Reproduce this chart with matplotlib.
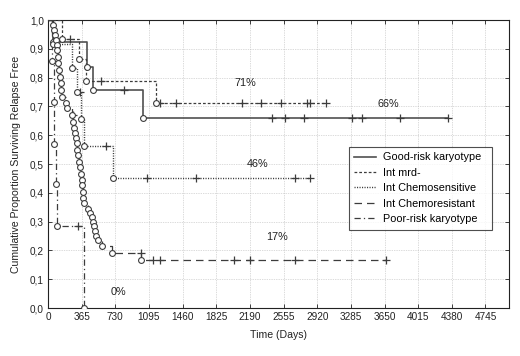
import numpy as np
import matplotlib
matplotlib.use("Agg")
import matplotlib.pyplot as plt
from matplotlib.lines import Line2D

plt.rcParams['font.family'] = ['Liberation Sans', 'DejaVu Sans']

# ---------------- data ----------------
series_names = ["Good-risk karyotype", "Int mrd-", "Int Chemosensitive",
                "Int Chemoresistant", "Poor-risk karyotype"]

good_event_days = [50, 419, 487, 1030]
good_surv = [0.923, 0.838, 0.757, 0.660]
good_censor_days = [823, 2434, 2568, 2774, 3301, 3409, 3821, 4334]

mrd_event_days = [147, 333, 412, 1170]
mrd_surv = [0.933, 0.864, 0.789, 0.711]
mrd_censor_days = [238, 574, 1213, 1387, 2103, 2315, 2525, 2813, 2840, 3012]

sens_event_days = [55, 256, 311, 357, 390, 707]
sens_surv = [0.917, 0.834, 0.751, 0.656, 0.5625, 0.450]
sens_censor_days = [347, 628, 1077, 1601, 2680, 2840]

res_event_days = [57, 68, 76, 87, 95, 101, 106, 110, 119, 130, 137, 144, 155,
                  192, 209, 263, 274, 282, 293, 300, 310, 317, 328, 336, 347,
                  354, 365, 372, 378, 384, 390, 433, 455, 473, 491, 502, 509,
                  520, 547, 585, 690, 1004]
res_surv = [0.983, 0.965, 0.948, 0.930, 0.913, 0.896, 0.873, 0.850, 0.826,
            0.803, 0.780, 0.757, 0.734, 0.711, 0.693, 0.670, 0.647, 0.624,
            0.607, 0.589, 0.572, 0.549, 0.531, 0.508, 0.490, 0.467, 0.444,
            0.427, 0.404, 0.383, 0.363, 0.345, 0.330, 0.315, 0.300, 0.285,
            0.268, 0.250, 0.235, 0.215, 0.192, 0.167]
res_censor_days = [268, 1004, 1134, 1213, 2015, 2196, 2676, 3669]

poor_event_days = [45, 60, 65, 90, 100, 393]
poor_surv = [0.857, 0.714, 0.571, 0.429, 0.286, 0.0]
poor_censor_days = [328]

labels_pct = ["71%", "66%", "46%", "17%", "0%"]
labels_day = [2145, 3690, 2275, 2480, 769]
labels_val = [0.78, 0.71, 0.50, 0.245, 0.055]

x_ticks = [0, 365, 730, 1095, 1460, 1825, 2190, 2555, 2920, 3285, 3650,
           4015, 4380, 4745]
y_ticks = [0.0, 0.1, 0.2, 0.3, 0.4, 0.5, 0.6, 0.7, 0.8, 0.9, 1.0]

# ---------------- figure ----------------
fig = plt.figure(figsize=(5.2, 3.56), dpi=100)
ax = fig.add_axes([48 / 520, 1 - 308 / 356, 461 / 520, 288 / 356])

col = '#3c3c3c'
styles = [
    dict(ls='-', lw=1.2, color='#505050'),
    dict(ls=(0, (2.2, 1.6)), lw=0.9, color=col),
    dict(ls=(0, (0.8, 1.0)), lw=1.0, color=col),
    dict(ls=(0, (6, 4)), lw=0.9, color=col),
    dict(ls=(0, (5, 2.5, 1, 2.5)), lw=0.9, color=col),
]

all_series = [
    (good_event_days, good_surv, good_censor_days),
    (mrd_event_days, mrd_surv, mrd_censor_days),
    (sens_event_days, sens_surv, sens_censor_days),
    (res_event_days, res_surv, res_censor_days),
    (poor_event_days, poor_surv, poor_censor_days),
]

for (ev, sv, cen), st in zip(all_series, styles):
    ev = np.asarray(ev, float)
    sv = np.asarray(sv, float)
    end = max(ev.max(), max(cen))
    t = np.concatenate([[0], ev, [end]])
    s = np.concatenate([[1.0], sv, [sv[-1]]])
    ax.step(t, s, where='post', **st, zorder=3)
    # censor marks
    cen = np.asarray(cen, float)
    idx = np.searchsorted(ev, cen, side='left')
    cs = np.where(idx > 0, sv[np.maximum(idx - 1, 0)], 1.0)
    ax.plot(cen, cs, ls='none', marker='+', ms=5.5, mew=0.9, color=col, zorder=4)
    # event markers
    ax.plot(ev, sv, ls='none', marker='o', ms=4.2, mfc='white', mec=col,
            mew=0.8, zorder=5)

for txt, d, v in zip(labels_pct, labels_day, labels_val):
    ax.text(d, v, txt, fontsize=7.8, ha='center', va='center', color='#222222')

ax.set_xlim(0, 5000)
ax.set_ylim(0, 1.0)
ax.set_xticks(x_ticks)
ax.set_xticklabels([str(v) for v in x_ticks])
ax.set_yticks(y_ticks)
ax.set_yticklabels([f"{v:.1f}".replace('.', ',') for v in y_ticks])
ax.tick_params(direction='in', length=3, width=0.6, labelsize=7.2,
               top=True, right=True, pad=3, colors='#222222')
ax.grid(True, ls=(0, (1, 1.5)), lw=0.5, color='#b8b8b8')
ax.set_axisbelow(True)
for sp in ax.spines.values():
    sp.set_linewidth(0.8)
    sp.set_color('#222222')

ax.set_xlabel("Time (Days)", fontsize=7.6, labelpad=6, color='#222222')
ax.set_ylabel("Cumulative Proportion Surviving Relapse Free", fontsize=7.6,
              labelpad=6, color='#222222')

handles = [Line2D([], [], **st) for st in styles]
leg = ax.legend(handles, series_names, loc='upper left',
                bbox_to_anchor=(0.653, 0.278, 0.310, 0.281), mode='expand',
                borderaxespad=0, fontsize=7.8, frameon=True, fancybox=False,
                handlelength=2.0, handletextpad=0.6, labelspacing=0.5,
                borderpad=0.5)
leg.get_frame().set_edgecolor('#222222')
leg.get_frame().set_linewidth(0.8)

fig.savefig("out.png", dpi=100)
